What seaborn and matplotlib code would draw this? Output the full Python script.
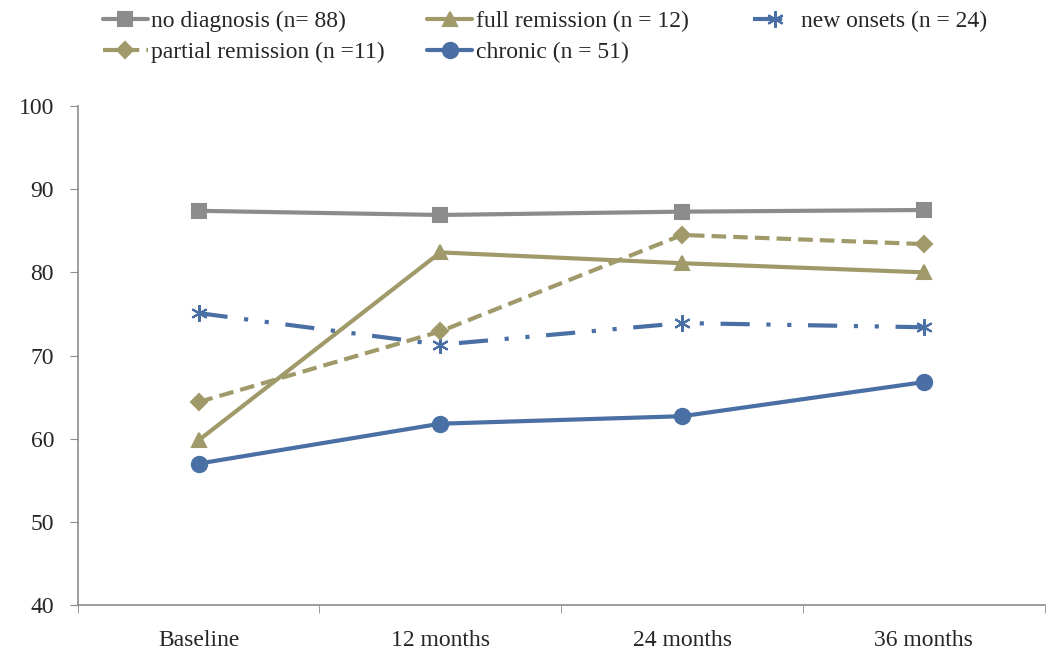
import numpy as np
import matplotlib
matplotlib.use("Agg")
import matplotlib.pyplot as plt
from matplotlib.ticker import FixedLocator
import seaborn as sns

# data
months = ["Baseline", "12 months", "24 months", "36 months"]
no_diagnosis = [87.4, 86.9, 87.3, 87.5]
full_remission = [59.8, 82.4, 81.1, 80.0]
new_onsets = [75.1, 71.3, 73.9, 73.4]
partial_remission = [64.4, 72.9, 84.5, 83.4]
chronic = [57.0, 61.8, 62.7, 66.8]

labels = ["no diagnosis (n= 88)", "full remission (n = 12)", "new onsets (n = 24)",
          "partial remission (n =11)", "chronic (n = 51)"]

sns.set_style("white")
plt.rcParams['font.family'] = ['Liberation Serif', 'DejaVu Serif']

gray = "#8c8c8c"
khaki = "#a09a6a"
blue = "#4a6fa5"

fig = plt.figure(figsize=(10.5, 6.67), dpi=100)
ax = fig.add_axes([0.074, 0.093, 0.921, 0.748])

series = [
    (no_diagnosis, labels[0], gray, "s", "-", 10),
    (full_remission, labels[1], khaki, "^", "-", 10),
    (new_onsets, labels[2], blue, (6, 2, 0), (0, (7, 4, 1, 4, 1, 4)), 12),
    (partial_remission, labels[3], khaki, "D", (0, (3.5, 1.7)), 8),
    (chronic, labels[4], blue, "o", "-", 11),
]

for vals, lab, col, mk, ls, ms in series:
    sns.lineplot(x=months, y=vals, ax=ax, color=col, marker=mk, markersize=ms,
                 linestyle=ls, linewidth=3, markeredgecolor=col, markeredgewidth=1.5,
                 label=lab)

h, l = ax.get_legend_handles_labels()
ax.get_legend().remove()

# legend laid out in three columns like the original
columns = [([0, 3], 0.098), ([1, 4], 0.407), ([2], 0.717)]
for idx, x0 in columns:
    fig.legend([h[i] for i in idx], [l[i] for i in idx], loc="upper left",
               bbox_to_anchor=(x0, 0.984), frameon=False, fontsize=17,
               handlelength=1.9, handletextpad=0.15, labelspacing=0.4,
               borderaxespad=0, borderpad=0)

ax.set_xlim(-0.5, 3.5)
ax.set_ylim(40, 100)
ax.set_yticks(np.arange(40, 101, 10))
ax.set_xlabel("")
ax.set_ylabel("")

for s in ["top", "right"]:
    ax.spines[s].set_visible(False)
for s in ["left", "bottom"]:
    ax.spines[s].set_color("#8c8c8c")
    ax.spines[s].set_linewidth(1.2)

ax.tick_params(axis="y", which="major", direction="out", length=6, color="#8c8c8c",
               labelsize=17, left=True, pad=11)
ax.tick_params(axis="x", which="major", length=0, labelsize=17, pad=18)
ax.xaxis.set_minor_locator(FixedLocator([-0.5, 0.5, 1.5, 2.5, 3.5]))
ax.tick_params(axis="x", which="minor", direction="out", length=6, color="#8c8c8c",
               bottom=True)

fig.savefig("out.png", dpi=100)
